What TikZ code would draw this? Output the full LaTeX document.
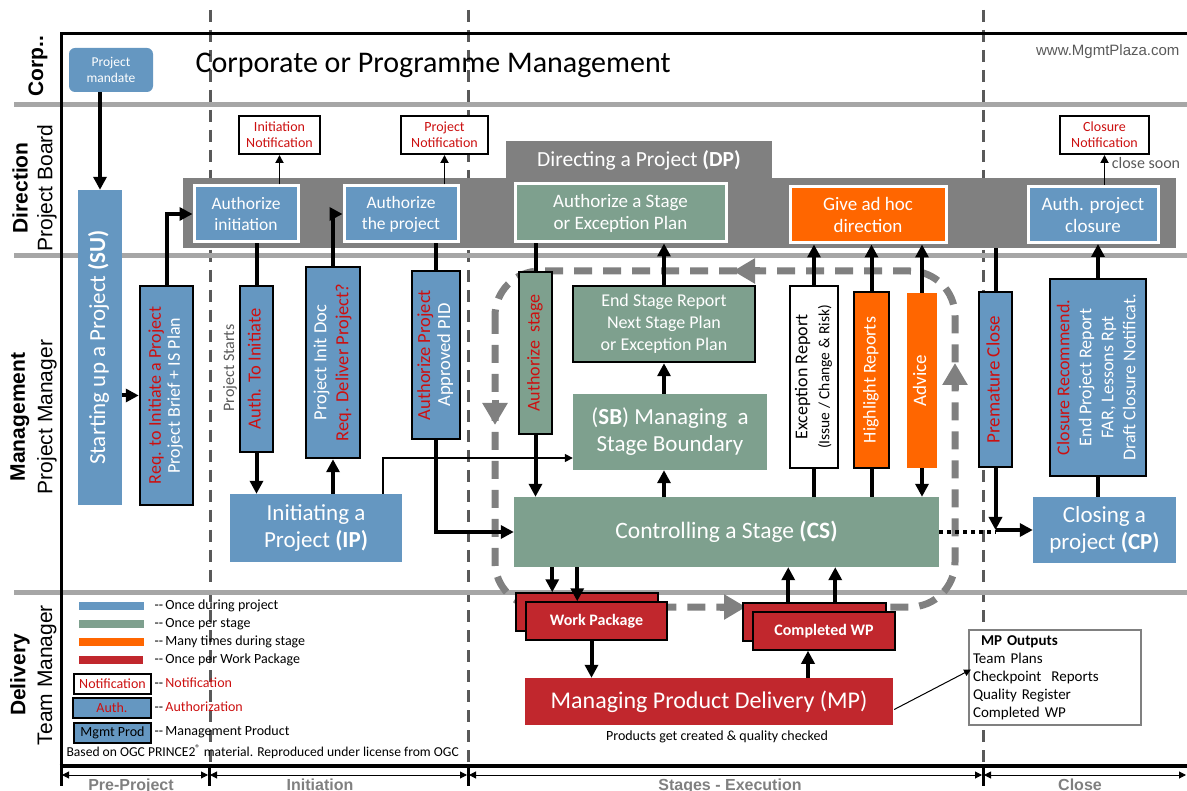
\documentclass[tikz,border=0pt]{standalone}
\usepackage{fontspec}
\setmainfont{Carlito}
\newfontfamily\arialfont{Liberation Sans}
\usetikzlibrary{arrows.meta}
\usetikzlibrary{positioning}
\usetikzlibrary{calc}

\definecolor{pblue}{RGB}{101,151,193}
\definecolor{pgreen}{RGB}{126,160,142}
\definecolor{porange}{RGB}{255,102,0}
\definecolor{pred}{RGB}{193,39,45}
\definecolor{nred}{RGB}{204,16,16}
\definecolor{dpgray}{RGB}{128,128,128}
\definecolor{lanegray}{RGB}{166,166,166}
\definecolor{divgray}{RGB}{89,89,89}

\newcommand\fsz[2]{\fontsize{#1}{#2}\selectfont}
\newcommand\vlbl[1]{\rotatebox{90}{\begin{tabular}{@{}c@{}}#1\end{tabular}}}
\newcommand\dd{{-}{-}}

\tikzset{
  wh/.style 2 args={minimum width=#1pt, minimum height=#2pt},
  box/.style={rectangle, inner sep=0pt, align=center, text=white},
  dpbox/.style={box, draw=white, line width=3pt},
  prodbox/.style={box, draw=black, line width=2.5pt},
  notebox/.style={box, fill=white, draw=black, line width=2pt, text=nred, font=\fsz{14}{16}},
}

\begin{document}
\begin{tikzpicture}[x=1pt, y=-1pt,
	flow/.style={line width=4pt, -{Triangle[length=13pt,width=13pt]}},
	link/.style={line width=4pt},
	thinflow/.style={line width=1.8pt, -{Triangle[length=8pt,width=8pt]}},
	loopline/.style={dpgray, line width=7pt, dash pattern=on 18pt off 11pt},
	loophead/.style={dpgray, line width=7pt, -{Triangle[length=22pt,width=24pt]}},
	phase/.style={line width=1pt, {Triangle[length=7pt,width=7pt]}-{Triangle[length=7pt,width=7pt]}},
	lane/.style={rotate=90, font=\arialfont\fsz{21}{24}},
	legtext/.style={anchor=west, font=\fsz{14}{16}}]
	
	\useasboundingbox (0,0) rectangle (1187,791);
	
	% phase dividers and lanes
	\foreach \x in {210,468,983}
	\draw[divgray, line width=3pt, dash pattern=on 12pt off 8pt] (\x,10) -- (\x,766);
	\foreach \y in {105,256,592}
	\draw[lanegray, line width=5pt] (14,\y) -- (1187,\y);
	\draw[line width=3pt] (1187,34) -- (61,34) -- (61,766);
	\draw[line width=4.5pt] (59.5,766) -- (1187,766);
	
	% lane titles
	\node[lane, font=\arialfont\bfseries\fsz{21}{24}] (corp) at (38,66) {Corp..};
	\node[lane, font=\arialfont\bfseries\fsz{21}{24}] (dirl) at (20,188) {Direction};
	\node[lane] (pbl) at (47,188) {Project Board};
	\node[lane, font=\arialfont\bfseries\fsz{21}{24}] (mgtl) at (20,417) {Management};
	\node[lane] (pml) at (47,417) {Project Manager};
	\node[lane, font=\arialfont\bfseries\fsz{21}{24}] (dell) at (20,675) {Delivery};
	\node[lane] (tml) at (47,675) {Team Manager};
	
	% stage loop
	\draw[loopline, rounded corners=45pt] (495,271) rectangle (955,607);
	\draw[loophead] (760,271) -- (733,271);
	\draw[loophead] (955,390) -- (955,363);
	\draw[loophead] (495,400) -- (495,425);
	\draw[loophead] (720,607) -- (746,607);
	
	% corporate
	\node[box, fill=pblue, rounded corners=6pt, wh={84}{44}, font=\fsz{13.5}{16}] (mandate) at (111,70) {Project\\mandate};
	\node[anchor=west, font=\fsz{30}{34}] (corpt) at (192,65) {Corporate or Programme Management};
	\node[anchor=east, text=divgray, font=\arialfont\fsz{15}{17}] (site) at (1183,52) {www.MgmtPlaza.com};
	
	% direction
	\node[box, fill=dpgray, wh={993}{70}] (dpbar) at (679.5,213) {};
	\node[box, fill=dpgray, wh={266}{38}, font=\fsz{21.5}{24}] (dptab) at (639,160) {Directing a Project \textbf{(DP)}};
	\node[dpbox, fill=pblue, wh={104}{56}, font=\fsz{17.5}{21}] (ai) at (246,214) {Authorize\\initiation};
	\node[dpbox, fill=pblue, wh={114}{56}, font=\fsz{17.5}{21}] (ap) at (401,214) {Authorize\\the project};
	\node[dpbox, fill=pgreen, wh={211}{58}, font=\fsz{19}{22}] (as) at (620.5,213) {Authorize a Stage\\or Exception Plan};
	\node[dpbox, fill=porange, wh={156}{56}, font=\fsz{19}{22}] (ah) at (868,215) {Give ad hoc\\direction};
	\node[dpbox, fill=pblue, wh={130}{56}, font=\fsz{19}{22}] (apc) at (1093,214.5) {Auth. project\\closure};
	\node[notebox, wh={81}{38}] (inote) at (279.5,135) {Initiation\\Notification};
	\node[notebox, wh={87}{38}] (pnote) at (444.5,135) {Project\\Notification};
	\node[notebox, wh={89}{38}] (cnote) at (1104.5,135) {Closure\\Notification};
	\node[text=divgray, font=\fsz{16}{18}] (soon) at (1146,163) {close soon};
	
	% management
	\node[box, fill=pblue, wh={44}{315}, font=\fsz{23}{26}] (su) at (100,347.5) {\vlbl{Starting up a Project \textbf{(SU)}}};
	\node[prodbox, fill=pblue, wh={53}{219}, font=\fsz{18}{19}] (req) at (166.5,395.5) {\vlbl{\textcolor{nred}{Req. to Initiate a Project}\\Project Brief + IS Plan}};
	\node[rotate=90, text=divgray, font=\fsz{16}{18}] (starts) at (230,368) {Project Starts};
	\node[prodbox, fill=pblue, wh={33}{166}, text=nred, font=\fsz{18.5}{20}] (ati) at (256.5,369) {\vlbl{Auth. To Initiate}};
	\node[prodbox, fill=pblue, wh={54}{191}, font=\fsz{18.5}{22}] (pid) at (333,362.5) {\vlbl{Project Init Doc\\\textcolor{nred}{Req. Deliver Project?}}};
	\node[prodbox, fill=pblue, wh={48}{168}, font=\fsz{18.5}{20}] (apr) at (436,355) {\vlbl{\textcolor{nred}{Authorize Project}\\Approved PID}};
	\node[box, fill=pblue, wh={172}{68}, font=\fsz{23}{27}] (ip) at (316,528) {Initiating a\\Project \textbf{(IP)}};
	\node[prodbox, fill=pgreen, wh={33}{162}, text=nred, font=\fsz{18}{20}] (ast) at (535.5,353) {\vlbl{Authorize~ stage}};
	\node[prodbox, fill=pgreen, wh={182}{76}, font=\fsz{18}{22}] (esr) at (664,324) {End Stage Report\\Next Stage Plan\\or Exception Plan};
	\node[box, fill=pgreen, wh={194}{76}, font=\fsz{23}{27}] (sb) at (670,432) {(\textbf{SB}) Managing~ a\\Stage Boundary};
	\node[box, fill=pgreen, wh={425}{70}, font=\fsz{23.5}{27}] (cs) at (726.5,532) {Controlling a Stage \textbf{(CS)}};
	\node[prodbox, fill=white, text=black, wh={48}{182}, font=\fsz{18}{22}] (exr) at (814,377) {\vlbl{Exception Report\\{\fsz{15.5}{16}(Issue / Change \& Risk)}}};
	\node[prodbox, fill=porange, wh={35}{176}, font=\fsz{18}{20}] (hlr) at (871.5,380) {\vlbl{Highlight Reports}};
	\node[box, fill=porange, wh={30}{175}, font=\fsz{19}{20}] (adv) at (922,380.5) {\vlbl{Advice}};
	\node[prodbox, fill=pblue, wh={33}{175}, text=nred, font=\fsz{19}{20}] (pcl) at (995.5,379.5) {\vlbl{Premature Close}};
	\node[prodbox, fill=pblue, wh={96}{197}, font=\fsz{18}{22}] (crec) at (1098,377.5) {\vlbl{\textcolor{nred}{Closure Recommend.}\\End Project Report\\FAR, Lessons Rpt\\Draft Closure Notificat.}};
	\node[box, fill=pblue, wh={143}{66}, font=\fsz{23}{27}] (cp) at (1104.5,530) {Closing a\\project \textbf{(CP)}};
	
	% delivery
	\node[prodbox, fill=pred, line width=1.5pt, wh={142}{38}] (wpb) at (587,612) {};
	\node[prodbox, fill=pred, line width=1.5pt, wh={141}{38}, font=\bfseries\fsz{16}{18}] (wp) at (596.5,621) {Work Package};
	\node[prodbox, fill=pred, line width=1.5pt, wh={143}{38}] (cwb) at (814.5,622) {};
	\node[prodbox, fill=pred, line width=1.5pt, wh={142}{38}, font=\bfseries\fsz{16}{18}] (cw) at (824,631) {Completed WP};
	\node[box, fill=pred, wh={368}{47}, font=\fsz{24}{28}] (mp) at (709,701.5) {Managing Product Delivery (MP)};
	\node[font=\fsz{14}{16}] (prodt) at (717,737) {Products get created \& quality checked};
	\node[draw=dpgray, fill=white, line width=2pt, inner sep=0pt, wh={172}{95}, text width=164pt, align=left, font=\fsz{15}{18}] (mpo) at (1055,677.5) {\hspace*{8pt}\textbf{MP Outputs}\\Team Plans\\Checkpoint~ Reports\\Quality Register\\Completed WP};
	
	% legend
	\node[box, fill=pblue, wh={65}{8}] (lg1) at (111.5,606) {};
	\node[box, fill=pgreen, wh={65}{8}] (lg2) at (111.5,624) {};
	\node[box, fill=porange, wh={65}{8}] (lg3) at (111.5,642) {};
	\node[box, fill=pred, wh={64}{8}] (lg4) at (111,660) {};
	\node[legtext] (lt1) at (151,606) {\dd\,Once during project};
	\node[legtext] (lt2) at (151,624) {\dd\,Once per stage};
	\node[legtext] (lt3) at (151,642) {\dd\,Many times during stage};
	\node[legtext] (lt4) at (151,660) {\dd\,Once per Work Package};
	\node[notebox, wh={77}{20}] (lgn) at (112.5,684) {Notification};
	\node[prodbox, fill=pblue, text=nred, wh={78}{20}, font=\fsz{14}{16}] (lga) at (112,708) {Auth.};
	\node[prodbox, fill=pblue, text=black, wh={77}{20}, font=\fsz{14}{16}] (lgm) at (112.5,733) {Mgmt Prod};
	\node[legtext, text=nred] (lt5) at (151,683) {\textcolor{black}{\dd}\,Notification};
	\node[legtext, text=nred] (lt6) at (151,707) {\textcolor{black}{\dd}\,Authorization};
	\node[legtext] (lt7) at (151,732) {\dd\,Management Product};
	\node[anchor=west, font=\fsz{13.6}{15}] (ogc) at (63,752) {Based on OGC PRINCE2\textsuperscript{®} material. Reproduced under license from OGC};
	
	% phases
	\foreach \x in {61,209,468,983}
	\draw[line width=3pt] (\x,766) -- (\x,786);
	\coordinate (p0) at (62,775);
	\coordinate (p1) at (208,775);
	\coordinate (p1b) at (210,775);
	\coordinate (p2) at (467,775);
	\coordinate (p2b) at (469,775);
	\coordinate (p3) at (982,775);
	\coordinate (p3b) at (984,775);
	\coordinate (p4) at (1186,775);
	\draw[phase] (p0) -- (p1);
	\draw[phase] (p1b) -- (p2);
	\draw[phase] (p2b) -- (p3);
	\draw[phase] (p3b) -- (p4);
	\node[anchor=base, text=dpgray, font=\arialfont\bfseries\fsz{16}{18}] (ph1) at (131,790) {Pre-Project};
	\node[anchor=base, text=dpgray, font=\arialfont\bfseries\fsz{16}{18}] (ph2) at (320,790) {Initiation};
	\node[anchor=base, text=dpgray, font=\arialfont\bfseries\fsz{16}{18}] (ph3) at (730,790) {Stages - Execution};
	\node[anchor=base, text=dpgray, font=\arialfont\bfseries\fsz{16}{18}] (ph4) at (1080,790) {Close};
	
	% pre-project flow
	\draw[flow] (su.north |- mandate.south) -- (su.north);
	\draw[flow] (su.east |- req.west) -- (req.west);
	\draw[flow] (req.north) |- (ai.west);
	
	% initiation flow
	\draw[thinflow] (inote.south |- ai.north) -- (inote.south);
	\draw[link] (ati.north |- ai.south) -- (ati.north);
	\draw[flow] (ati.south) -- (ati.south |- ip.north);
	\draw[flow] (pid.south |- ip.north) -- (pid.south);
	\draw[flow] (pid.north) |- (ap.west);
	\draw[thinflow] (pnote.south |- ap.north) -- (pnote.south);
	\draw[link] (apr.north |- ap.south) -- (apr.north);
	\draw[flow] (apr.south) |- (cs.west);
	\draw[line width=1.5pt, -{Triangle[length=8pt,width=8pt]}] ([xshift=-19pt]ip.north east) |- ($(sb.west)+(0,26)$);
	
	% stage flow
	\draw[link] (ast.north |- as.south) -- (ast.north);
	\draw[flow] (ast.south) -- (ast.south |- cs.north);
	\draw[flow] (cs.north -| esr.south) -- (sb.south -| esr.south);
	\draw[flow] (sb.north -| esr.south) -- (esr.south);
	\draw[flow] (esr.north) -- (esr.north |- as.south);
	\draw[link] (cs.north -| exr.south) -- (exr.south);
	\draw[flow] (exr.north) -- (exr.north |- ah.south);
	\draw[link] (cs.north -| hlr.south) -- (hlr.south);
	\draw[flow] (hlr.north) -- (hlr.north |- ah.south);
	\draw[flow] (adv.north) -- (adv.north |- ah.south);
	\draw[flow] (adv.south) -- (adv.south |- cs.north);
	
	% work packages
	\draw[flow] ([xshift=37pt]wpb.north west |- cs.south) -- ([xshift=37pt]wpb.north west);
	\draw[flow] ([xshift=52pt]wp.north west |- cs.south) -- ([xshift=52pt]wp.north west);
	\draw[flow] ([xshift=-5pt]wp.south) -- ([xshift=-5pt]wp.south |- mp.north);
	\draw[flow] ([xshift=-16pt]cw.south |- mp.north) -- ([xshift=-16pt]cw.south);
	\draw[flow] ([xshift=46pt]cwb.north west) -- ([xshift=46pt]cwb.north west |- cs.south);
	\draw[flow] ([xshift=93pt]cwb.north west) -- ([xshift=93pt]cwb.north west |- cs.south);
	\draw[line width=1pt, -{Triangle[length=7pt,width=7pt]}] ($(mp.east)+(1,8)$) -- ($(mpo.west)+(3,-8)$);
	
	% closing
	\draw[link] (pcl.north |- dpbar.south) -- (pcl.north);
	\draw[flow] (pcl.south) -- (pcl.south |- cp.west);
	\draw[line width=4pt, dash pattern=on 4pt off 4pt] (cs.east) -- (cs.east -| pcl.south);
	\draw[flow] (pcl.south |- cp.west) -- (cp.west);
	\draw[link] (cp.north -| crec.south) -- (crec.south);
	\draw[flow] (crec.north) -- (crec.north |- apc.south);
	\draw[thinflow] (cnote.south |- apc.north) -- (cnote.south);
\end{tikzpicture}
\end{document}
